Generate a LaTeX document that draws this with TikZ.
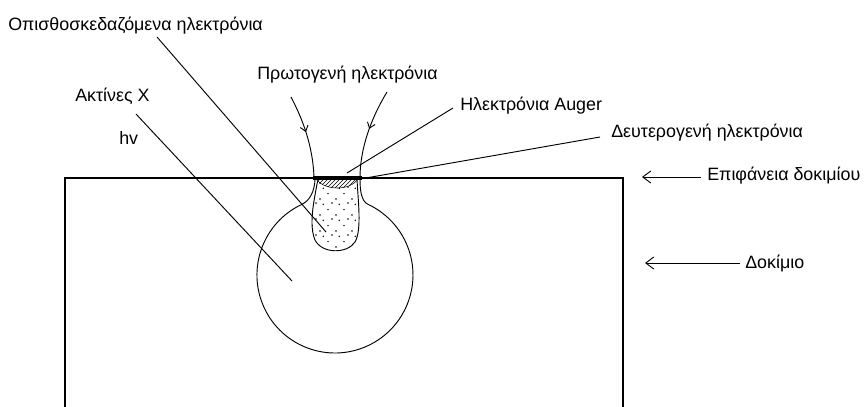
\documentclass[tikz,border=0pt]{standalone}
\usepackage{fontspec}
\setmainfont{Liberation Sans}
\usepackage{tikz}
\usetikzlibrary{patterns,calc,arrows.meta,decorations.markings}

% loose dots for the excitation pear
\pgfdeclarepatternformonly{sparse dots}{\pgfqpoint{-1pt}{-1pt}}{\pgfqpoint{13pt}{13pt}}{\pgfqpoint{12pt}{12pt}}{%
  \pgfpathcircle{\pgfqpoint{0pt}{0pt}}{0.6pt}
  \pgfpathcircle{\pgfqpoint{6pt}{4pt}}{0.6pt}
  \pgfpathcircle{\pgfqpoint{2.5pt}{8pt}}{0.6pt}
  \pgfpathcircle{\pgfqpoint{9pt}{9pt}}{0.6pt}
  \pgfusepath{fill}}

\tikzset{
  lbl/.style={anchor=base west, inner sep=0pt, font=\labelfontsize},
  leader/.style={line width=0.7pt},
  midarrow/.style={postaction={decorate}, decoration={markings,
      mark=at position #1 with {\arrow{Straight Barb[length=4pt,width=6pt]}}}},
  pointer/.style={line width=0.7pt, -{Straight Barb[length=6pt,width=9pt]}}
}

\begin{document}
\begin{tikzpicture}[x=0.75pt, y=-0.75pt]
\def\labelfontsize{\fontsize{13.4}{15}\selectfont}
\useasboundingbox (0,0) rectangle (864,407);

% SPECIMEN
\draw[line width=0.9pt] (65,407) |- (623,178) -- (623,407);

% tips of the leaders inside the specimen
\coordinate (bstip) at (326,232);
\coordinate (xtip) at (292,281);
\coordinate (atip) at (347,173);
\coordinate (stip) at (360,179);
\coordinate (surftip) at (642,177);
\coordinate (spectip) at (645,263);

% interaction volume (bulb)
\draw[line width=0.7pt] (315,178) .. controls (315,192) and (309,201) .. (302,204.3)
  arc[start angle=245, end angle=-65, radius=78]
  .. controls (361,201) and (360,190) .. (360,178);

% dotted pear and hatched Auger layer
\draw[line width=0.7pt, pattern=sparse dots] (318,179) .. controls (313,205) and (309,225) .. (315,240)
  .. controls (322,254) and (347,254) .. (355,242)
  .. controls (362,230) and (358,200) .. (357,179) -- cycle;
\fill[white] (316,179) .. controls (325,191) and (350,191) .. (358,179) -- cycle;
\draw[pattern=north east lines, line width=0.4pt] (316,179) .. controls (325,191) and (350,191) .. (358,179) -- cycle;
\fill (313,176) rectangle (362,180);

% LABELS
\node[lbl] (back) at (8,30) {Οπισθοσκεδαζόμενα ηλεκτρόνια};
\node[lbl] (prim) at (257,79) {Πρωτογενή ηλεκτρόνια};
\node[lbl] (xray) at (75,101) {Ακτίνες Χ};
\node[lbl] (hv) at (119,144) {hv};
\node[lbl] (auger) at (460,110) {Ηλεκτρόνια Auger};
\node[lbl] (second) at (611,137) {Δευτερογενή ηλεκτρόνια};
\node[lbl] (surf) at (707,180) {Επιφάνεια δοκιμίου};
\node[lbl] (spec) at (745,268) {Δοκίμιο};

% leaders
\draw[leader] ($(back.base west)+(149,7)$) -- (bstip);
\draw[leader] ($(xray.base west)+(61,13)$) -- (xtip);
\draw[leader] ($(auger.base west)+(-7,-2)$) -- (atip);
\draw[leader] ($(second.base west)+(-11,0)$) -- (stip);

% primary beam
\draw[leader, midarrow=0.45] ($(prim.base west)+(34,18)$) .. controls (302,118) and (313,145) .. (314,178);
\draw[leader, midarrow=0.45] ($(prim.base west)+(130,13)$) .. controls (370,120) and (360,150) .. (360,178);

% right hand pointers
\draw[pointer] ($(surf.base west)+(-6,-3)$) -- (surftip);
\draw[pointer] ($(spec.base west)+(-5,-5)$) -- (spectip);

\end{tikzpicture}
\end{document}
